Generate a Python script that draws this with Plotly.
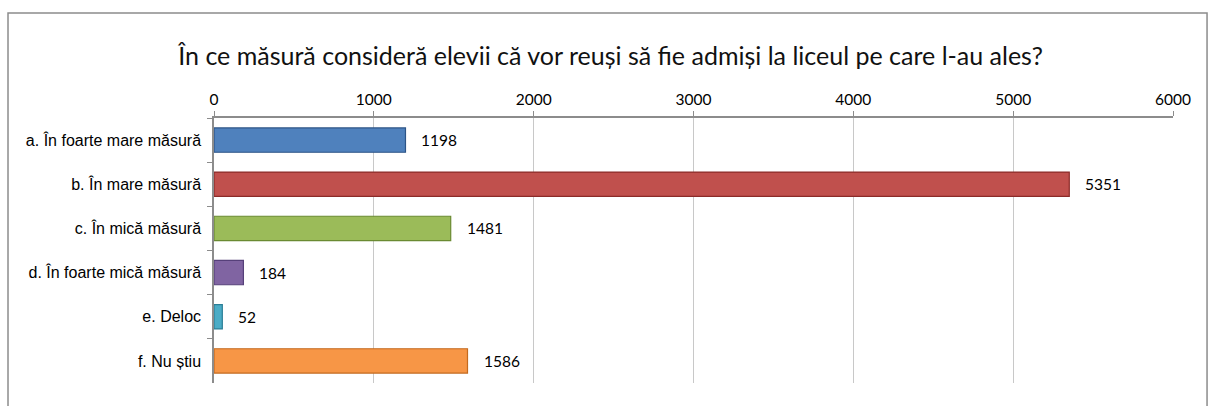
import plotly.graph_objects as go

categories = ["a. În foarte mare măsură", "b. În mare măsură", "c. În mică măsură",
              "d. În foarte mică măsură", "e. Deloc", "f. Nu știu"]
values = [1198, 5351, 1481, 184, 52, 1586]
colors = ["#4F81BD", "#C0504D", "#9BBB59", "#8064A2", "#4BACC6", "#F79646"]
edge_colors = ["#2C5487", "#8B2B29", "#6A8A32", "#56407A", "#2A7E96", "#C46A1E"]
tick_vals = [0, 1000, 2000, 3000, 4000, 5000, 6000]

fig = go.Figure()
fig.add_trace(go.Bar(
    y=categories, x=values, orientation="h",
    marker=dict(color=colors, line=dict(color=edge_colors, width=1.2)),
    width=0.55, hoverinfo="x+y",
))

for c, v in zip(categories, values):
    fig.add_annotation(x=v, y=c, text=str(v), showarrow=False, xanchor="left",
                       xshift=14, font=dict(family="Lato, Open Sans, sans-serif", size=15.5, color="#000"))

fig.add_shape(type="rect", xref="paper", yref="paper",
              x0=-0.2148, x1=1.0355, y0=-0.2, y1=1.396,
              line=dict(color="#8C8C8C", width=1.5), layer="below")

fig.update_layout(
    width=1209, height=406,
    margin=dict(l=214, r=36, t=118, b=23),
    paper_bgcolor="white", plot_bgcolor="white",
    showlegend=False,
    title=dict(text="În ce măsură consideră elevii că vor reuși să fie admiși la liceul pe care l-au ales?",
               x=0.505, xanchor="center", y=0.862, yanchor="middle",
               font=dict(family="Lato, Open Sans, sans-serif", size=25, color="#111")),
    xaxis=dict(side="top", range=[0, 6000], tickvals=tick_vals, showgrid=True,
               gridcolor="#C8C8C8", gridwidth=1, showline=True, linecolor="#8C8C8C",
               linewidth=1.5, ticks="outside", ticklen=5, tickcolor="#8C8C8C",
               tickfont=dict(family="Lato, Open Sans, sans-serif", size=15.5, color="#000"),
               zeroline=False, fixedrange=True),
    yaxis=dict(autorange="reversed", showline=True, linecolor="#8C8C8C", linewidth=1.5,
               ticks="outside", ticklen=5, tickcolor="#8C8C8C", tickson="boundaries",
               ticklabelstandoff=8,
               tickfont=dict(family="Liberation Sans, Arial, sans-serif", size=16, color="#000"),
               showgrid=False, fixedrange=True),
)

fig.write_html("out.html", config={"displayModeBar": False},
               post_script="document.body.style.margin='0';document.body.style.overflow='hidden';")
